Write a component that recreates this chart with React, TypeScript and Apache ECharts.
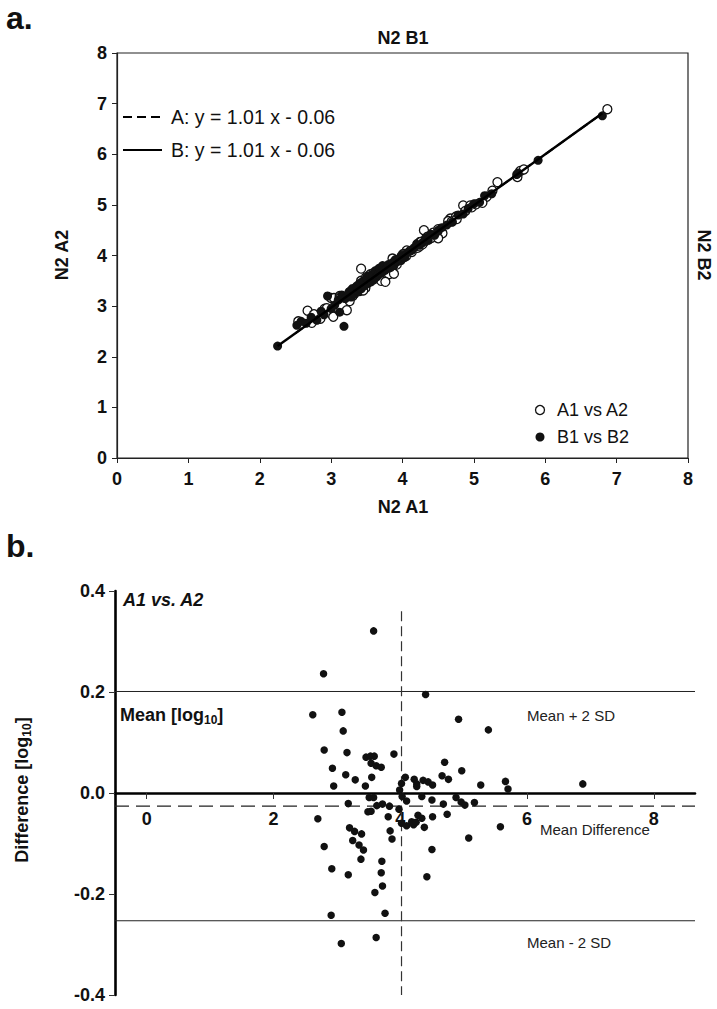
import React, { useEffect, useRef } from 'react';
import * as echarts from 'echarts';

// ---- Panel a: N2 A1 vs N2 A2 (open) and N2 B1 vs N2 B2 (filled) ----
const aX = [3.42, 2.67, 4.30, 2.54, 3.00, 4.85, 5.33, 3.04, 2.76, 3.12, 3.42, 3.49, 3.55, 3.51, 3.59, 3.67, 3.86, 4.67, 2.91, 4.95, 3.12, 4.64, 3.28, 3.53, 4.06, 4.21, 4.75, 4.35, 4.43, 5.65, 4.01, 4.25, 6.87, 4.50, 5.26, 2.94, 3.44, 4.26, 5.70, 3.99, 4.03, 4.34, 3.51, 3.58, 4.88, 4.51, 4.11, 4.97, 5.18, 3.19, 3.73, 4.69, 5.03, 3.64, 3.84, 4.00, 3.51, 3.56, 4.76, 4.30, 3.83, 4.53, 4.37, 2.73, 4.05, 4.13, 4.21, 4.24, 4.28, 4.41, 5.61, 3.23, 3.32, 3.43, 3.88, 3.92, 5.12, 3.30, 3.40, 2.85, 3.48, 4.56, 3.45, 3.78, 3.00, 3.78, 3.26, 4.50, 3.81, 3.70, 3.88, 3.03, 3.76, 3.22];
const aY = [3.74, 2.91, 4.50, 2.70, 3.16, 4.99, 5.45, 3.16, 2.84, 3.20, 3.50, 3.57, 3.63, 3.57, 3.65, 3.73, 3.94, 4.73, 2.95, 4.99, 3.16, 4.68, 3.30, 3.57, 4.10, 4.23, 4.77, 4.37, 4.45, 5.67, 4.03, 4.27, 6.89, 4.52, 5.28, 2.96, 3.46, 4.27, 5.70, 3.99, 4.03, 4.34, 3.51, 3.58, 4.88, 4.49, 4.09, 4.95, 5.16, 3.17, 3.71, 4.67, 5.01, 3.62, 3.82, 3.96, 3.47, 3.52, 4.72, 4.26, 3.79, 4.49, 4.32, 2.67, 3.99, 4.07, 4.15, 4.18, 4.22, 4.35, 5.55, 3.17, 3.24, 3.35, 3.80, 3.82, 5.04, 3.20, 3.30, 2.75, 3.36, 4.44, 3.31, 3.64, 2.85, 3.62, 3.10, 4.34, 3.63, 3.50, 3.64, 2.79, 3.48, 2.92];
const bX = [2.25, 2.52, 2.58, 2.65, 2.72, 2.80, 2.86, 2.90, 2.95, 3.00, 3.05, 3.10, 3.12, 3.18, 3.15, 3.20, 3.25, 3.28, 3.30, 3.33, 3.36, 3.38, 3.40, 3.42, 3.45, 3.47, 3.50, 3.52, 3.55, 3.56, 3.58, 3.60, 3.62, 3.64, 3.66, 3.68, 3.70, 3.72, 3.75, 3.78, 3.80, 3.83, 3.86, 3.88, 3.90, 3.93, 3.96, 3.98, 4.00, 4.03, 4.06, 4.10, 4.13, 4.16, 4.20, 4.24, 4.28, 4.32, 4.36, 4.40, 4.45, 4.50, 4.55, 4.62, 4.70, 4.78, 4.85, 4.92, 5.00, 5.08, 5.15, 5.25, 5.60, 5.62, 5.90, 6.80];
const bY = [2.21, 2.62, 2.70, 2.66, 2.78, 2.72, 2.90, 2.83, 3.20, 2.95, 3.02, 3.12, 2.88, 2.60, 3.22, 3.15, 3.28, 3.18, 3.35, 3.24, 3.40, 3.30, 3.45, 3.34, 3.50, 3.40, 3.55, 3.45, 3.60, 3.48, 3.62, 3.52, 3.70, 3.58, 3.62, 3.75, 3.65, 3.80, 3.70, 3.74, 3.82, 3.76, 3.86, 3.80, 3.92, 3.88, 3.95, 3.90, 4.00, 3.96, 4.05, 4.08, 4.10, 4.15, 4.22, 4.20, 4.25, 4.34, 4.30, 4.42, 4.40, 4.48, 4.55, 4.60, 4.66, 4.80, 4.82, 4.93, 5.02, 5.05, 5.18, 5.22, 5.60, 5.63, 5.88, 6.76];
// regression lines from the legend
const fitSlope = 1.01;
const fitIntercept = -0.06;
const fitAX = [2.5, 6.87];
const fitBX = [2.25, 6.8];

// ---- Panel b: Bland-Altman A1 vs A2 ----
const baMean = [3.58, 2.79, 4.40, 2.62, 3.08, 4.92, 5.39, 3.10, 2.80, 3.16, 3.46, 3.53, 3.59, 3.54, 3.62, 3.70, 3.90, 4.70, 2.93, 4.97, 3.14, 4.66, 3.29, 3.55, 4.08, 4.22, 4.76, 4.36, 4.44, 5.66, 4.02, 4.26, 6.88, 4.51, 5.27, 2.95, 3.45, 4.26, 5.70, 3.99, 4.03, 4.34, 3.51, 3.58, 4.88, 4.50, 4.10, 4.96, 5.17, 3.18, 3.72, 4.68, 5.02, 3.63, 3.83, 3.98, 3.49, 3.54, 4.74, 4.28, 3.81, 4.51, 4.34, 2.70, 4.02, 4.10, 4.18, 4.21, 4.25, 4.38, 5.58, 3.20, 3.28, 3.39, 3.84, 3.87, 5.08, 3.25, 3.35, 2.80, 3.42, 4.50, 3.38, 3.71, 2.92, 3.70, 3.18, 4.42, 3.72, 3.60, 3.76, 2.91, 3.62, 3.07];
const baDiff = [0.321, 0.236, 0.195, 0.155, 0.160, 0.146, 0.125, 0.123, 0.085, 0.080, 0.071, 0.073, 0.073, 0.059, 0.054, 0.051, 0.077, 0.061, 0.049, 0.044, 0.036, 0.034, 0.026, 0.031, 0.031, 0.027, 0.027, 0.025, 0.022, 0.023, 0.019, 0.018, 0.018, 0.016, 0.016, 0.014, 0.014, 0.013, 0.008, 0.006, -0.007, -0.007, -0.009, -0.009, -0.009, -0.014, -0.016, -0.018, -0.019, -0.021, -0.022, -0.022, -0.024, -0.025, -0.026, -0.032, -0.037, -0.036, -0.042, -0.044, -0.047, -0.047, -0.050, -0.051, -0.060, -0.065, -0.057, -0.063, -0.058, -0.068, -0.067, -0.069, -0.076, -0.081, -0.075, -0.091, -0.089, -0.094, -0.103, -0.106, -0.113, -0.112, -0.131, -0.135, -0.150, -0.158, -0.162, -0.166, -0.184, -0.197, -0.238, -0.242, -0.286, -0.298];
const meanPlus2SD = 0.201;
const meanDifference = -0.026;
const meanMinus2SD = -0.253;
const meanOfMeans = 4.02;
const vLineRange = [0.36, -0.4];
const bXRange = [-0.5, 8.65];
const bXTicks = [0, 2, 4, 6, 8];
const bYTicks = [-0.4, -0.2, 0, 0.2, 0.4];

const FONT = '"Liberation Sans", Arial, sans-serif';

export default function App() {
  const ref = useRef<HTMLDivElement>(null);
  useEffect(() => {
    if (!ref.current) return;
    const chart = echarts.init(ref.current, null, { renderer: 'svg' });
    const zip = (xs: number[], ys: number[]) => xs.map((x, i) => [x, ys[i]]);
    const fit = (xs: number[]) => xs.map((x) => [x, fitSlope * x + fitIntercept]);
    const tickLbl = { fontFamily: FONT, fontWeight: 'bold' as const, fontSize: 18, color: '#111' };
    const option: any = {
      animation: false,
      backgroundColor: '#fff',
      grid: [
        { left: 117, top: 53, width: 571, height: 405, show: true, borderColor: '#222', borderWidth: 1.2, backgroundColor: 'transparent', outerBoundsMode: 'none' },
        { left: 115, top: 591, width: 580, height: 404, outerBoundsMode: 'none' },
        // helper grid: upper half of panel b, its bottom edge is the zero line (carries x tick labels)
        { left: 115, top: 591, width: 580, height: 202, outerBoundsMode: 'none' },
      ],
      xAxis: [
        {
          gridIndex: 0, type: 'value', min: 0, max: 8, interval: 1,
          axisLine: { lineStyle: { color: '#222', width: 1.2 } },
          axisTick: { show: true, length: 5, lineStyle: { color: '#222' } },
          axisLabel: { ...tickLbl, margin: 12 },
          splitLine: { show: false },
        },
        {
          gridIndex: 1, type: 'value', min: bXRange[0], max: bXRange[1],
          axisLine: { show: false }, axisTick: { show: false }, axisLabel: { show: false }, splitLine: { show: false },
        },
        {
          gridIndex: 2, type: 'value', min: bXRange[0], max: bXRange[1], position: 'bottom',
          axisLine: { show: true, onZero: false, lineStyle: { color: '#000', width: 2.6 } },
          axisTick: { show: true, length: 6, customValues: bXTicks, lineStyle: { color: '#333', width: 1 } },
          axisLabel: { ...tickLbl, margin: 17, customValues: bXTicks },
          splitLine: { show: false },
        },
      ],
      yAxis: [
        {
          gridIndex: 0, type: 'value', min: 0, max: 8, interval: 1,
          axisLine: { show: true, lineStyle: { color: '#222', width: 1.2 } },
          axisTick: { show: true, length: 5, lineStyle: { color: '#222' } },
          axisLabel: { ...tickLbl, margin: 10 },
          splitLine: { show: false },
        },
        {
          gridIndex: 1, type: 'value', min: -0.4, max: 0.4,
          axisLine: { show: true, onZero: false, lineStyle: { color: '#000', width: 2.6 } },
          axisTick: { show: true, length: 6, customValues: bYTicks, lineStyle: { color: '#333' } },
          axisLabel: { ...tickLbl, margin: 10, customValues: bYTicks, formatter: (v: number) => v.toFixed(1) },
          splitLine: { show: false },
        },
        {
          gridIndex: 2, type: 'value', min: 0, max: 0.4,
          axisLine: { show: false }, axisTick: { show: false }, axisLabel: { show: false }, splitLine: { show: false },
        },
      ],
      series: [
        {
          name: 'A fit', type: 'line', xAxisIndex: 0, yAxisIndex: 0, data: fit(fitAX), symbol: 'none',
          lineStyle: { color: '#000', width: 2, type: [9, 5] }, z: 3,
        },
        {
          name: 'A1 vs A2', type: 'scatter', xAxisIndex: 0, yAxisIndex: 0, data: zip(aX, aY), symbol: 'circle', symbolSize: 9,
          itemStyle: { color: '#fff', borderColor: '#111', borderWidth: 1.3, opacity: 1 }, z: 4,
        },
        {
          name: 'B1 vs B2', type: 'scatter', xAxisIndex: 0, yAxisIndex: 0, data: zip(bX, bY), symbol: 'circle', symbolSize: 9,
          itemStyle: { color: '#111', opacity: 1 }, z: 5,
        },
        {
          name: 'B fit', type: 'line', xAxisIndex: 0, yAxisIndex: 0, data: fit(fitBX), symbol: 'none',
          lineStyle: { color: '#000', width: 2.4 }, z: 6,
        },
        {
          name: 'Mean + 2 SD', type: 'line', xAxisIndex: 1, yAxisIndex: 1, symbol: 'none',
          data: [[bXRange[0], meanPlus2SD], [bXRange[1], meanPlus2SD]], lineStyle: { color: '#222', width: 1 },
        },
        {
          name: 'Mean - 2 SD', type: 'line', xAxisIndex: 1, yAxisIndex: 1, symbol: 'none',
          data: [[bXRange[0], meanMinus2SD], [bXRange[1], meanMinus2SD]], lineStyle: { color: '#222', width: 1 },
        },
        {
          name: 'Mean Difference', type: 'line', xAxisIndex: 1, yAxisIndex: 1, symbol: 'none',
          data: [[bXRange[0], meanDifference], [bXRange[1], meanDifference]], lineStyle: { color: '#222', width: 1.2, type: [14, 7] },
        },
        {
          name: 'Mean', type: 'line', xAxisIndex: 1, yAxisIndex: 1, symbol: 'none',
          data: [[meanOfMeans, vLineRange[0]], [meanOfMeans, vLineRange[1]]], lineStyle: { color: '#333', width: 1.2, type: [10, 5] },
        },
        {
          name: 'Difference', type: 'scatter', xAxisIndex: 1, yAxisIndex: 1, data: zip(baMean, baDiff), symbol: 'circle', symbolSize: 7.5,
          itemStyle: { color: '#111', opacity: 1 }, z: 5,
        },
      ],
      graphic: [
        { type: 'text', left: 6, top: 2, style: { text: 'a.', font: `bold 32px ${FONT}`, fill: '#111' } },
        { type: 'text', left: 6, top: 530, style: { text: 'b.', font: `bold 32px ${FONT}`, fill: '#111' } },
        { type: 'text', x: 403, y: 38, style: { text: 'N2 B1', font: `bold 18px ${FONT}`, fill: '#111', textAlign: 'center', textVerticalAlign: 'middle' } },
        { type: 'text', x: 403, y: 507, style: { text: 'N2 A1', font: `bold 18px ${FONT}`, fill: '#111', textAlign: 'center', textVerticalAlign: 'middle' } },
        { type: 'text', x: 62, y: 255, rotation: Math.PI / 2, style: { text: 'N2 A2', font: `bold 18px ${FONT}`, fill: '#111', textAlign: 'center', textVerticalAlign: 'middle' } },
        { type: 'text', x: 704, y: 255, rotation: -Math.PI / 2, style: { text: 'N2 B2', font: `bold 18px ${FONT}`, fill: '#111', textAlign: 'center', textVerticalAlign: 'middle' } },
        // legend top-left
        { type: 'line', shape: { x1: 123, y1: 117, x2: 162, y2: 117 }, style: { stroke: '#000', lineWidth: 2, lineDash: [9, 5] } },
        { type: 'text', x: 171, y: 117, style: { text: 'A: y = 1.01 x - 0.06', font: `19.5px ${FONT}`, fill: '#111', textVerticalAlign: 'middle' } },
        { type: 'line', shape: { x1: 123, y1: 150, x2: 162, y2: 150 }, style: { stroke: '#000', lineWidth: 2 } },
        { type: 'text', x: 171, y: 150, style: { text: 'B: y = 1.01 x - 0.06', font: `19.5px ${FONT}`, fill: '#111', textVerticalAlign: 'middle' } },
        // legend bottom-right
        { type: 'circle', shape: { cx: 540, cy: 410, r: 4.5 }, style: { fill: '#fff', stroke: '#111', lineWidth: 1.3 } },
        { type: 'text', x: 557, y: 410, style: { text: 'A1 vs A2', font: `18px ${FONT}`, fill: '#111', textVerticalAlign: 'middle' } },
        { type: 'circle', shape: { cx: 540, cy: 437, r: 4.5 }, style: { fill: '#111' } },
        { type: 'text', x: 557, y: 437, style: { text: 'B1 vs B2', font: `18px ${FONT}`, fill: '#111', textVerticalAlign: 'middle' } },
        // panel b texts
        { type: 'text', x: 123, y: 600, style: { text: 'A1 vs. A2', font: `italic bold 18px ${FONT}`, fill: '#111', textVerticalAlign: 'middle' } },
        {
          type: 'text', x: 120, y: 715,
          style: {
            text: '{a|Mean [log}{s|10}{a|]}', textVerticalAlign: 'middle',
            rich: {
              a: { fontFamily: FONT, fontWeight: 'bold', fontSize: 18, fill: '#111', color: '#111' },
              s: { fontFamily: FONT, fontWeight: 'bold', fontSize: 12, fill: '#111', color: '#111', padding: [9, 0, 0, 0] },
            },
          },
        },
        {
          type: 'text', x: 22, y: 790, rotation: Math.PI / 2,
          style: {
            text: '{a|Difference [log}{s|10}{a|]}', textAlign: 'center', textVerticalAlign: 'middle',
            rich: {
              a: { fontFamily: FONT, fontWeight: 'bold', fontSize: 18, fill: '#111', color: '#111' },
              s: { fontFamily: FONT, fontWeight: 'bold', fontSize: 12, fill: '#111', color: '#111', padding: [9, 0, 0, 0] },
            },
          },
        },
        { type: 'text', x: 527, y: 715, style: { text: 'Mean + 2 SD', font: `15px ${FONT}`, fill: '#222', textVerticalAlign: 'middle' } },
        { type: 'text', x: 540, y: 829, style: { text: 'Mean Difference', font: `15px ${FONT}`, fill: '#222', textVerticalAlign: 'middle' } },
        { type: 'text', x: 527, y: 942, style: { text: 'Mean - 2 SD', font: `15px ${FONT}`, fill: '#222', textVerticalAlign: 'middle' } },
      ],
    };
    chart.setOption(option);
    return () => chart.dispose();
  }, []);
  return (
    <div
      ref={ref}
      style={{ position: 'absolute', left: 0, top: 0, width: 717, height: 1009, background: '#fff' }}
    />
  );
}
